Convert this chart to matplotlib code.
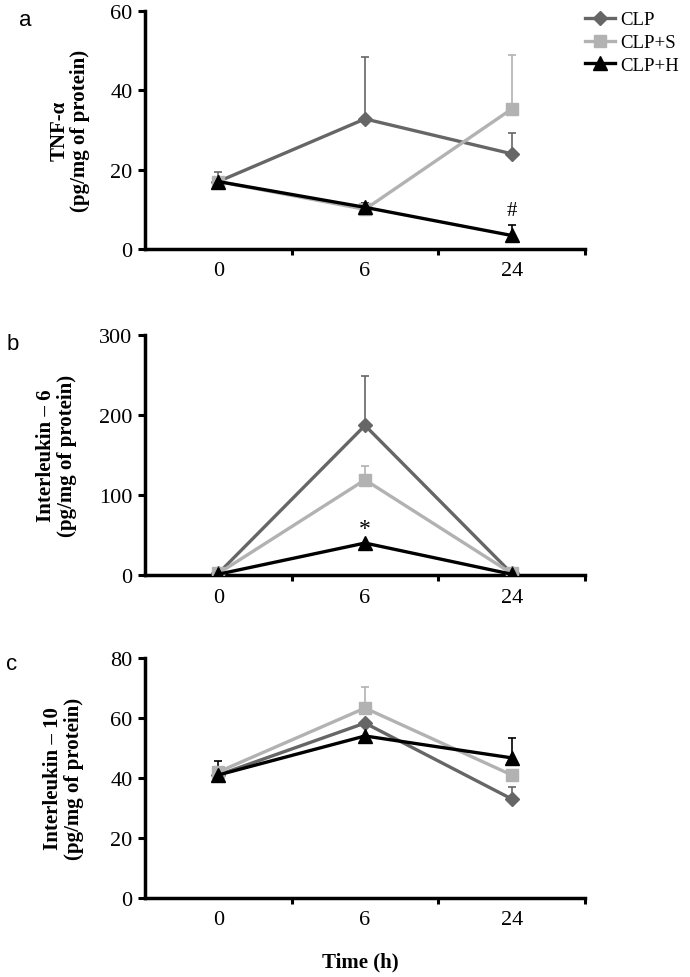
import numpy as np
import matplotlib
matplotlib.use("Agg")
import matplotlib.pyplot as plt

# time points (categorical)
times = ["0", "6", "24"]
groups = ["CLP", "CLP+S", "CLP+H"]

# panel a: TNF-alpha
tnf_clp = [17, 32.8, 24]
tnf_clp_err = [2.5, 15.5, 5.2]
tnf_s = [17, 10, 35.3]
tnf_s_err = [0, 0, 13.5]
tnf_h = [17, 10.5, 3.4]
tnf_h_err = [0, 1.0, 2.6]

# panel b: IL-6
il6_clp = [2, 187, 2]
il6_clp_err = [0, 62, 0]
il6_s = [2, 119, 2]
il6_s_err = [0, 17, 0]
il6_h = [1, 40, 1]
il6_h_err = [0, 0, 0]

# panel c: IL-10
il10_clp = [41, 58.3, 33]
il10_clp_err = [0, 0, 4]
il10_s = [42, 63.3, 41]
il10_s_err = [0, 7, 0]
il10_h = [41, 54, 46.7]
il10_h_err = [4.5, 0, 6.6]

colors = {"CLP": "#666666", "CLP+S": "#b2b2b2", "CLP+H": "#000000"}
markers = {"CLP": "D", "CLP+S": "s", "CLP+H": "^"}
msize = {"CLP": 7, "CLP+S": 9, "CLP+H": 10}

serif = "Liberation Serif"
sans = "Liberation Sans"

fig = plt.figure(figsize=(6.9, 9.78), dpi=100)

panels = [
    ([0.210, 0.7444, 0.638, 0.2433], [tnf_clp, tnf_s, tnf_h], [tnf_clp_err, tnf_s_err, tnf_h_err],
     60, [0, 20, 40, 60], "TNF-α\n(pg/mg of protein)", -0.17),
    ([0.210, 0.4110, 0.638, 0.2454], [il6_clp, il6_s, il6_h], [il6_clp_err, il6_s_err, il6_h_err],
     300, [0, 100, 200, 300], "Interleukin – 6\n(pg/mg of protein)", -0.20),
    ([0.210, 0.0808, 0.638, 0.2454], [il10_clp, il10_s, il10_h], [il10_clp_err, il10_s_err, il10_h_err],
     80, [0, 20, 40, 60, 80], "Interleukin – 10\n(pg/mg of protein)", -0.185),
]

x = np.arange(len(times))
axes = []
for rect, series, errs, ymax, yticks, ylab, labx in panels:
    ax = fig.add_axes(rect)
    for g, vals, err in zip(groups, series, errs):
        c = colors[g]
        ax.errorbar(x, vals, yerr=[np.zeros(len(err)), err], fmt="none",
                    ecolor=c, elinewidth=1.2, capsize=3, capthick=1.2, zorder=2)
        ax.plot(x, vals, color=c, lw=2.4, marker=markers[g], ms=msize[g],
                mfc=c, mec=c, label=g, zorder=3)
    ax.set_xlim(-0.5, 2.5)
    ax.set_ylim(0, ymax)
    ax.set_yticks(yticks)
    ax.set_xticks([0.5, 1.5, 2.5])
    ax.set_xticklabels([])
    ax.set_xticks(x, minor=True)
    ax.set_xticklabels(times, minor=True)
    ax.tick_params(axis="x", which="major", direction="out", length=4, width=2.2)
    ax.tick_params(axis="x", which="minor", length=0, pad=9)
    ax.tick_params(axis="y", direction="out", length=5, width=2.2, pad=4)
    for lab in ax.get_xticklabels(minor=True) + ax.get_yticklabels():
        lab.set_fontfamily(serif)
        lab.set_fontsize(16)
    for s in ["top", "right"]:
        ax.spines[s].set_visible(False)
    for s in ["left", "bottom"]:
        ax.spines[s].set_linewidth(2.5)
    ax.text(labx, 0.5, ylab, transform=ax.transAxes, rotation=90, ha="center",
            va="center", fontfamily=serif, fontweight="bold", fontsize=15,
            multialignment="center", linespacing=1.05)
    axes.append(ax)

axes[0].text(2, 9.6, "#", ha="center", va="center", fontfamily=serif, fontsize=15)
axes[1].text(1, 58, "*", ha="center", va="center", fontfamily=serif, fontsize=17)

fig.text(25 / 690, 1 - 20 / 978, "a", ha="center", va="center", fontfamily=sans, fontsize=16)
fig.text(13 / 690, 1 - 344 / 978, "b", ha="center", va="center", fontfamily=sans, fontsize=16)
fig.text(12 / 690, 1 - 665 / 978, "c", ha="center", va="center", fontfamily=sans, fontsize=16)

fig.text(360 / 690, 1 - 962 / 978, "Time (h)", ha="center", va="center",
         fontfamily=serif, fontweight="bold", fontsize=15)

handles, labels = axes[0].get_legend_handles_labels()
fig.legend(handles, labels, loc="upper left", bbox_to_anchor=(0.830, 1.0),
           frameon=False, prop={"family": serif, "size": 13.5}, handlelength=1.6,
           handletextpad=0.3, labelspacing=0.3, borderaxespad=0.25)

fig.savefig("out.png", dpi=100)
